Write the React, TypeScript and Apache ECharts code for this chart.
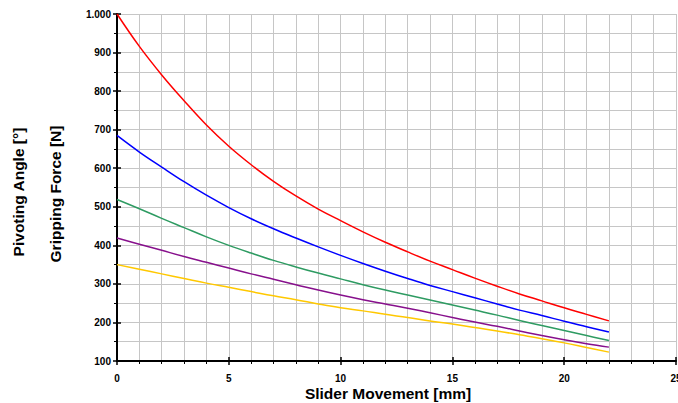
import React, { useEffect, useRef } from "react";
import * as echarts from "echarts";

// Slider movement in mm (0 … 22)
const sliderMm = [0, 1, 2, 3, 4, 5, 6, 7, 8, 9, 10, 11, 12, 13, 14, 15, 16, 17, 18, 19, 20, 21, 22];

// Gripping force curves in N, one per gripper configuration
const forceRed = [1000, 916, 842, 775, 712, 657, 609, 566, 528, 494, 464, 435, 408, 383, 359, 337, 315, 294, 274, 256, 238, 221, 204];
const forceBlue = [685, 642, 603, 565, 530, 498, 469, 443, 419, 396, 374, 353, 333, 314, 296, 280, 264, 248, 232, 218, 203, 189, 175];
const forceGreen = [519, 495, 470, 446, 422, 400, 380, 361, 344, 328, 313, 298, 284, 271, 258, 245, 232, 219, 205, 192, 179, 166, 153];
const forcePurple = [419, 403, 387, 371, 356, 341, 326, 312, 298, 284, 271, 259, 248, 237, 225, 213, 201, 190, 178, 166, 155, 145, 136];
const forceYellow = [350, 338, 326, 314, 302, 291, 280, 269, 259, 248, 238, 230, 221, 213, 204, 196, 187, 178, 168, 158, 147, 135, 123];

const curves = [
  { values: forceRed, color: "#ff0000" },
  { values: forceBlue, color: "#0000ff" },
  { values: forceGreen, color: "#2e9b62" },
  { values: forcePurple, color: "#87108c" },
  { values: forceYellow, color: "#ffc800" },
];

const xTitle = "Slider Movement [mm]";
const yTitleOuter = "Pivoting Angle [°]";
const yTitleInner = "Gripping Force [N]";

const FONT = "'Liberation Sans', Arial, sans-serif";

const thousands = (v: number) => String(v).replace(/\B(?=(\d{3})+(?!\d))/g, ".");

export default function App() {
  const ref = useRef<HTMLDivElement>(null);

  useEffect(() => {
    if (!ref.current) return;
    const chart = echarts.init(ref.current, null, { renderer: "svg" });

    const gridLine = { show: true, lineStyle: { color: "#c6c6c6", width: 1 } };

    chart.setOption({
      animation: false,
      backgroundColor: "#ffffff",
      grid: {
        left: 117,
        right: 2,
        top: 14,
        bottom: 42,
        containLabel: false,
        outerBoundsMode: "none",
      },
      xAxis: [
        {
          type: "value",
          min: 0,
          max: 25,
          interval: 5,
          axisLine: { show: true, onZero: false, lineStyle: { color: "#000", width: 2 } },
          axisTick: { show: true, inside: false, length: 4, lineStyle: { color: "#000", width: 1.5 } },
          minorTick: { show: true, splitNumber: 5, length: 3, lineStyle: { color: "#000", width: 1 } },
          splitLine: gridLine,
          minorSplitLine: gridLine,
          axisLabel: {
            margin: 12,
            color: "#000",
            fontFamily: FONT,
            fontWeight: "bold",
            fontSize: 10,
            showMaxLabel: true,
          },
        },
        {
          // inner half of the major ticks
          type: "value",
          min: 0,
          max: 25,
          interval: 5,
          position: "bottom",
          axisLine: { show: false },
          axisTick: { show: true, inside: true, length: 4, lineStyle: { color: "#000", width: 1.5 } },
          axisLabel: { show: false },
          splitLine: { show: false },
        },
      ],
      yAxis: [
        {
          type: "value",
          min: 100,
          max: 1000,
          interval: 100,
          axisLine: { show: true, onZero: false, lineStyle: { color: "#000", width: 2 } },
          axisTick: { show: true, inside: false, length: 4, lineStyle: { color: "#000", width: 1.5 } },
          minorTick: { show: true, splitNumber: 2, length: 3, lineStyle: { color: "#000", width: 1 } },
          splitLine: gridLine,
          minorSplitLine: gridLine,
          axisLabel: {
            margin: 6,
            color: "#000",
            fontFamily: FONT,
            fontWeight: "bold",
            fontSize: 10,
            formatter: (v: number) => thousands(v),
          },
        },
        {
          type: "value",
          min: 100,
          max: 1000,
          interval: 100,
          position: "left",
          axisLine: { show: false },
          axisTick: { show: true, inside: true, length: 4, lineStyle: { color: "#000", width: 1.5 } },
          axisLabel: { show: false },
          splitLine: { show: false },
        },
      ],
      series: curves.map((c) => ({
        type: "line",
        xAxisIndex: 0,
        yAxisIndex: 0,
        data: sliderMm.map((x, i) => [x, c.values[i]]),
        showSymbol: false,
        smooth: 0.4,
        lineStyle: { color: c.color, width: 1.5 },
        itemStyle: { color: c.color },
        z: 3,
      })),
      graphic: [
        {
          type: "text",
          x: 388,
          y: 393,
          style: {
            text: xTitle,
            fill: "#000",
            font: `bold 15.5px ${FONT}`,
            textAlign: "center",
            textVerticalAlign: "middle",
          },
        },
        {
          type: "text",
          x: 18,
          y: 192,
          rotation: Math.PI / 2,
          style: {
            text: yTitleOuter,
            fill: "#000",
            font: `bold 15.5px ${FONT}`,
            textAlign: "center",
            textVerticalAlign: "middle",
          },
        },
        {
          type: "text",
          x: 55,
          y: 194,
          rotation: Math.PI / 2,
          style: {
            text: yTitleInner,
            fill: "#000",
            font: `bold 15.5px ${FONT}`,
            textAlign: "center",
            textVerticalAlign: "middle",
          },
        },
      ],
    });

    return () => chart.dispose();
  }, []);

  return (
    <div
      ref={ref}
      style={{ position: "fixed", left: 0, top: 0, width: 678, height: 403, background: "#fff" }}
    />
  );
}
